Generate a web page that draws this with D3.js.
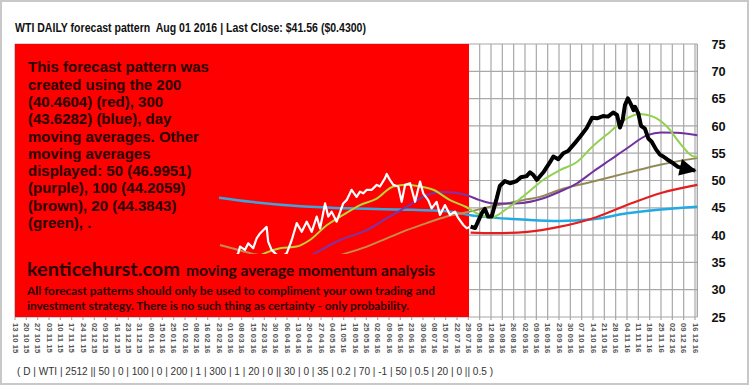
<!DOCTYPE html>
<html><head><meta charset="utf-8">
<script src="https://cdn.jsdelivr.net/npm/d3@7"></script>
<style>body{margin:0;background:#fff}svg{display:block}text{white-space:pre}</style>
</head><body>
<svg id="c" width="750" height="386"></svg>
<script>
const title = "WTI DAILY forecast pattern  Aug 01 2016 | Last Close: $41.56 ($0.4300)";
const xLabels = ["13 10 15","20 10 15","27 10 15","03 11 15","10 11 15","17 11 15","24 11 15","02 12 15","09 12 15","16 12 15","23 12 15","31 12 15","08 01 16","15 01 16","25 01 16","01 02 16","08 02 16","16 02 16","23 02 16","01 03 16","08 03 16","15 03 16","22 03 16","30 03 16","06 04 16","13 04 16","20 04 16","27 04 16","04 05 16","11 05 16","18 05 16","25 05 16","02 06 16","09 06 16","16 06 16","23 06 16","30 06 16","08 07 16","15 07 16","22 07 16","29 07 16","05 08 16","12 08 16","19 08 16","26 08 16","02 09 16","09 09 16","16 09 16","23 09 16","30 09 16","07 10 16","14 10 16","21 10 16","28 10 16","04 11 16","11 11 16","18 11 16","25 11 16","02 12 16","09 12 16","16 12 16"];
const yTicks = [25,30,35,40,45,50,55,60,65,70,75];
const noteLines = ["This forecast pattern was","created using the 200","(40.4604) (red), 300","(43.6282) (blue), day","moving averages. Other","moving averages","displayed: 50 (46.9951)","(purple), 100 (44.2059)","(brown), 20 (44.3843)","(green), ."];
const brand = "kenticehurst.com";
const brandSub = "moving average momentum analysis";
const disclaimer = ["All forecast patterns should only be used to compliment your own trading and","investment strategy. There is no such thing as certainty - only probability."];
const footer = "( D | WTI | 2512 || 50 | 0 | 100 | 0 | 200 | 1 | 300 | 1 | 20 | 0 || 30 | 0 | 35 | 0.2 | 70 | -1 | 50 | 0.5 | 20 | 0 || 0.5 )";

// [trading-day index, value]; index 0 = 13 10 15, 5 days per label
const priceHist = [[97,35.9],[98.5,36.7],[99.3,37.9],[101.5,37.3],[102.9,38.5],[105.1,37.6],[106.6,39.4],[108.1,40.3],[109.5,40.9],[111,41.5],[111.7,38.8],[113.2,37.3],[114.7,36.7],[117,35.8],[119.9,36.7],[122.1,39.1],[124.3,42.2],[126.5,40.6],[128.7,42.45],[130.9,40.6],[133.1,43.4],[134.6,41.2],[136.8,45.8],[138.2,43.4],[139.7,44.3],[141.9,42.45],[144.8,45.8],[146.3,46.4],[148.5,48.3],[150.7,47.0],[152.2,47.95],[153.7,47.65],[155.2,48.3],[157.4,48.3],[159.6,49.2],[161,48.9],[163.2,50.4],[164,51.2],[165.4,50.1],[166.9,49.2],[169.1,48.9],[170.6,46.1],[172.1,49.2],[174.3,49.5],[176.5,46.1],[178.7,49.8],[180.1,47.65],[182.3,46.4],[183.8,44.9],[186,46.1],[187.5,43.7],[189.7,45.5],[191.9,43.7],[194.1,44.3],[195.6,43.1],[197.8,41.85],[199.3,41.25],[201,41.56]];
const priceForecast = [[201,41.56],[203,41.3],[204.4,42.6],[205.9,44.0],[207.3,44.8],[208.7,43.4],[210.3,43.4],[212.5,46.7],[213.9,49.0],[216.1,49.9],[218.4,49.5],[221.3,49.9],[223.2,50.6],[225.7,50.8],[227.2,51.5],[228.7,51.0],[230.2,50.1],[233.1,51.5],[236.1,53.4],[237.5,54.4],[239.7,53.9],[241.9,55.0],[244,55.4],[247.1,56.9],[249.3,58.0],[252.2,59.6],[254.6,61.5],[256.8,61.4],[259.4,61.8],[261.6,61.7],[263.9,62.45],[265.6,62.0],[266.9,59.7],[268.1,61.1],[269.1,63.8],[270.4,65.05],[271.8,63.9],[272.9,62.9],[273.5,63.5],[275,62.3],[276.2,60.0],[277.9,59.5],[279.4,57.7],[280.9,57.1],[282.8,55.7],[284.6,54.7],[286,54.4],[287.6,53.9],[290.4,53.15],[292.5,52.5],[300,51.8]];
const ma20 = [[108,36.2],[110.3,36.7],[116.9,37.6],[124.3,37.9],[130.1,39.1],[137.5,41.8],[144.8,43.7],[152.2,45.5],[159.6,46.7],[166.9,48.9],[172.8,49.2],[178.7,48.9],[184.5,48.3],[191.9,46.4],[199.3,45.1],[203.7,44.0],[210,43.2],[217.5,45.0],[225.9,47.65],[233,50.1],[240.4,51.9],[247.9,53.4],[255,56.3],[262.5,58.9],[270,61.4],[275.7,62.2],[281.5,61.7],[287.7,59.85],[293.4,56.8],[298.7,54.5],[301,54.25]];
const ma50 = [[128,35.7],[131.6,36.5],[143.4,39.1],[155.2,40.9],[164,43.1],[172.8,45.2],[181.6,47.3],[187.5,47.9],[193.4,47.8],[199.3,47.3],[205,46.4],[211,45.8],[217,45.8],[224,45.9],[232,46.6],[240,47.9],[248,49.5],[255,51.6],[262.5,53.75],[270,55.9],[279,58.3],[285,58.8],[292,58.75],[301,58.3]];
const ma100 = [[90.4,38.2],[97,37.45],[103.7,36.7],[115,35.8],[125,35.3],[135,35.5],[146.3,36.7],[155.2,37.9],[164,39.4],[172.8,40.9],[181.6,42.2],[190.5,43.4],[200.7,44.3],[209.6,45.2],[216.9,45.8],[224.1,46.4],[231.6,47.0],[240.4,48.3],[255,49.8],[270,51.4],[284.6,52.9],[301,54.1]];
const ma200 = [[201,40.46],[211,40.35],[226,40.6],[240,41.5],[255,43.1],[270,45.5],[285,47.7],[301,49.2]];
const ma300 = [[90,46.85],[104,46.1],[126,45.3],[148,44.9],[170,44.7],[192,44.3],[201,43.63],[211,43.2],[226,42.8],[240,42.6],[255,42.9],[270,44.0],[285,44.7],[301,45.2]];

const svg = d3.select("#c");
const x = d3.scaleLinear().domain([0, 300]).range([15, 695]);
const y = d3.scaleLinear().domain([25, 75]).range([317, 44]);
const plotL = x(0), plotR = x(301), plotT = y(75), plotB = y(25);
const splitX = x(200.3);

// frame
svg.append("rect").attr("x",1).attr("y",1).attr("width",747).attr("height",383)
  .attr("fill","#fff").attr("stroke","#c8c8c8").attr("stroke-width",2);

// title
svg.append("text").attr("x",15).attr("y",31.5).text(title)
  .attr("font-family","'Liberation Sans Narrow','Arial Narrow','Liberation Sans',Arial,sans-serif")
  .attr("font-weight","bold").attr("font-size",13.5).attr("fill","#111")
  .attr("textLength",351).attr("lengthAdjust","spacingAndGlyphs");

// grid
const grid = svg.append("g").attr("stroke","#a8a8a8").attr("stroke-width",1.2);
yTicks.forEach(t => grid.append("line").attr("x1",plotL).attr("x2",plotR).attr("y1",y(t)).attr("y2",y(t)));
xLabels.forEach((d,k) => grid.append("line").attr("x1",x(k*5)).attr("x2",x(k*5)).attr("y1",plotT).attr("y2",plotB+3));
grid.append("line").attr("x1",plotR).attr("x2",plotR).attr("y1",plotT).attr("y2",plotB).attr("stroke","#999");

// y labels
svg.append("g").selectAll("text").data(yTicks).join("text")
  .attr("x",711.5).attr("y",d=>y(d)).attr("dy","0.36em").text(d=>d)
  .attr("font-family","'Liberation Sans',Arial,sans-serif").attr("font-weight","bold")
  .attr("font-size",12.8).attr("fill","#111");

// x labels rotated
svg.append("g").selectAll("text").data(xLabels).join("text")
  .attr("transform",(d,k)=>`translate(${x(k*5)},323) rotate(90)`)
  .attr("dominant-baseline","central").text(d=>d)
  .attr("font-family","'Liberation Sans',Arial,sans-serif").attr("font-weight","bold")
  .attr("font-size",7.8).attr("fill","#555");

// red history background
svg.append("rect").attr("x",plotL).attr("y",plotT).attr("width",splitX-plotL).attr("height",plotB-plotT).attr("fill","#ff0000");

// clip paths
const defs = svg.append("defs");
defs.append("clipPath").attr("id","cHist").append("rect").attr("x",0).attr("y",0).attr("width",splitX).attr("height",386);
defs.append("clipPath").attr("id","cFc").append("rect").attr("x",splitX).attr("y",0).attr("width",750-splitX).attr("height",386);
defs.append("marker").attr("id","arrow").attr("viewBox","0 0 10 10").attr("refX",9).attr("refY",5)
  .attr("markerUnits","userSpaceOnUse").attr("markerWidth",18).attr("markerHeight",17).attr("orient","auto")
  .append("path").attr("d","M0,0 L10,5 L0,10 Z").attr("fill","#000");

const smooth = d3.line().x(d=>x(d[0])).y(d=>y(d[1])).curve(d3.curveMonotoneX);
const straight = d3.line().x(d=>x(d[0])).y(d=>y(d[1]));

const series = [
  {data: ma300, hist:"#3fa3de", fc:"#22aae2", w:2.5},
  {data: ma200, hist:"#e41e1e", fc:"#e41e1e", w:2.2},
  {data: ma100, hist:"#c68a4e", fc:"#948a58", w:2},
  {data: ma50,  hist:"#7a35a8", fc:"#7030a0", w:2},
  {data: ma20,  hist:"#b8d436", fc:"#92d050", w:2},
];
series.forEach(s => {
  svg.append("path").attr("d",smooth(s.data)).attr("fill","none").attr("stroke",s.hist).attr("stroke-width",s.w).attr("clip-path","url(#cHist)");
  svg.append("path").attr("d",smooth(s.data)).attr("fill","none").attr("stroke",s.fc).attr("stroke-width",s.w).attr("clip-path","url(#cFc)");
});
svg.append("path").attr("d",straight(priceHist)).attr("fill","none").attr("stroke","#fff").attr("stroke-width",2.2).attr("stroke-linejoin","round");
svg.append("path").attr("d",straight(priceForecast)).attr("fill","none").attr("stroke","#000").attr("stroke-width",4)
  .attr("stroke-linejoin","round").attr("marker-end","url(#arrow)");

// opaque text boxes
const boxTop = 254;
svg.append("rect").attr("x",plotL).attr("y",plotT).attr("width",x(90)-plotL).attr("height",boxTop-plotT).attr("fill","#ff0000");
svg.append("rect").attr("x",plotL).attr("y",boxTop).attr("width",splitX-plotL).attr("height",plotB-boxTop).attr("fill","#ff0000");

// note text
svg.append("g").selectAll("text").data(noteLines).join("text")
  .attr("x",28).attr("y",(d,k)=>72.3+k*17.3).text(d=>d)
  .attr("font-family","'Liberation Sans',Arial,sans-serif").attr("font-weight","bold")
  .attr("font-size",15).attr("fill","#2a0000");

const bf = "Lato,'Open Sans',sans-serif";
svg.append("text").attr("x",27).attr("y",276).text(brand).attr("font-family",bf).attr("font-weight","bold")
  .attr("font-size",19).attr("fill","#2a0000").attr("textLength",153).attr("lengthAdjust","spacingAndGlyphs");
svg.append("text").attr("x",186).attr("y",276).text(brandSub).attr("font-family",bf).attr("font-weight","bold")
  .attr("font-size",14.5).attr("fill","#2a0000").attr("textLength",249).attr("lengthAdjust","spacingAndGlyphs");
const dw = [408, 382];
disclaimer.forEach((t,k) => svg.append("text").attr("x",27).attr("y",294.5+k*15).text(t)
  .attr("font-family",bf).attr("font-weight","bold").attr("font-size",11).attr("fill","#2a0000")
  .attr("textLength",dw[k]).attr("lengthAdjust","spacingAndGlyphs"));

// footer
svg.append("text").attr("x",17).attr("y",374.5).text(footer)
  .attr("font-family","'Liberation Sans',Arial,sans-serif").attr("font-size",11.5).attr("fill","#333")
  .attr("textLength",476).attr("lengthAdjust","spacingAndGlyphs");
</script>
</body></html>
